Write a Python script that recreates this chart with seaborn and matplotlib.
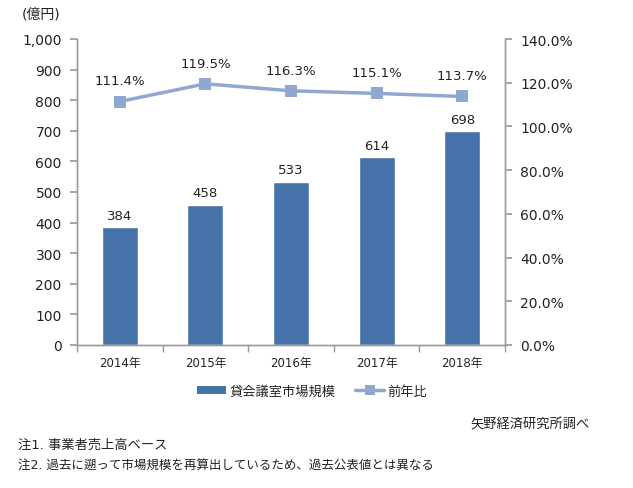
import matplotlib
matplotlib.use("Agg")
import matplotlib.pyplot as plt
import seaborn as sns
import pandas as pd
import numpy as np
from matplotlib.lines import Line2D
from matplotlib.patches import Patch
from matplotlib.ticker import FuncFormatter, MultipleLocator

years = ["2014年", "2015年", "2016年", "2017年", "2018年"]
market = [384, 458, 533, 614, 698]
yoy = [111.4, 119.5, 116.3, 115.1, 113.7]

bar_color = "#4672AA"
line_color = "#8FA7D1"

sns.set_theme(style="white")
plt.rcParams["font.family"] = ["DejaVu Sans", "Noto Sans CJK JP"]

df = pd.DataFrame({"year": years, "market": market, "yoy": yoy})

fig = plt.figure(figsize=(6.33, 4.89), dpi=100)
ax = fig.add_axes([77/633, 1-346/489, (505-77)/633, (346-40)/489])

sns.barplot(data=df, x="year", y="market", color=bar_color, width=0.42,
            saturation=1, ax=ax)
ax.set_ylim(0, 1000)
ax.set_xlim(-0.5, 4.5)
ax.yaxis.set_major_locator(MultipleLocator(100))
ax.yaxis.set_major_formatter(FuncFormatter(lambda v, p: f"{int(v):,}"))
for i, v in enumerate(market):
    ax.text(i, v + 18, str(v), ha="center", va="bottom", fontsize=9.5, color="#222222")

ax2 = ax.twinx()
sns.lineplot(x=np.arange(len(years)), y=yoy, ax=ax2, color=line_color, linewidth=2.5,
             marker="s", markersize=8, markeredgewidth=0, markerfacecolor=line_color)
ax2.set_ylim(0, 140)
ax2.set_xlim(-0.5, 4.5)
ax2.yaxis.set_major_locator(MultipleLocator(20))
ax2.yaxis.set_major_formatter(FuncFormatter(lambda v, p: f"{v:.1f}%"))
for i, v in enumerate(yoy):
    ax2.text(i, v + 6.5, f"{v:.1f}%", ha="center", va="bottom", fontsize=9.5, color="#222222")

spine_color = "#9a9a9a"
for a in (ax, ax2):
    a.spines["top"].set_visible(False)
    for s in ("left", "right", "bottom"):
        a.spines[s].set_color(spine_color)
        a.spines[s].set_linewidth(1)
    a.grid(False)
    a.set_xlabel("")
    a.set_ylabel("")

ax.tick_params(axis="y", which="major", direction="out", length=5, color=spine_color,
               labelsize=10, pad=6, left=True, labelcolor="#222222")
ax2.tick_params(axis="y", which="major", direction="out", length=5, color=spine_color,
                labelsize=10, pad=6, right=True, labelcolor="#222222")
ax.set_xticks(range(len(years)))
ax.set_xticklabels(years)
ax.set_xticks(np.arange(-0.5, 5, 1), minor=True)
ax.tick_params(axis="x", which="major", length=0, labelsize=8.5, pad=8, labelcolor="#222222")
ax.tick_params(axis="x", which="minor", direction="out", length=5, color=spine_color, bottom=True)
ax2.tick_params(axis="x", which="both", length=0)

fig.text(22/633, 1-15/489, "(億円)", fontsize=10, va="center", ha="left", color="#222222")

handles = [Patch(facecolor=bar_color, edgecolor="none"),
           Line2D([0], [0], color=line_color, linewidth=2.5, marker="s", markersize=7,
                  markeredgewidth=0)]
fig.legend(handles, ["貸会議室市場規模", "前年比"], loc="center", bbox_to_anchor=(312/633, 1-392/489),
           ncol=2, frameon=False, fontsize=9.5, handlelength=2.2, handleheight=0.5,
           columnspacing=1.5, handletextpad=0.25)

fig.text(590/633, 1-425/489, "矢野経済研究所調べ", fontsize=9.5, ha="right", va="center", color="#222222")
fig.text(18/633, 1-445/489, "注1. 事業者売上高ベース", fontsize=9.5, ha="left", va="center", color="#222222")
fig.text(18/633, 1-466/489, "注2. 過去に遡って市場規模を再算出しているため、過去公表値とは異なる",
         fontsize=9.0, ha="left", va="center", color="#222222")

fig.savefig("out.png", dpi=100, facecolor="white")
